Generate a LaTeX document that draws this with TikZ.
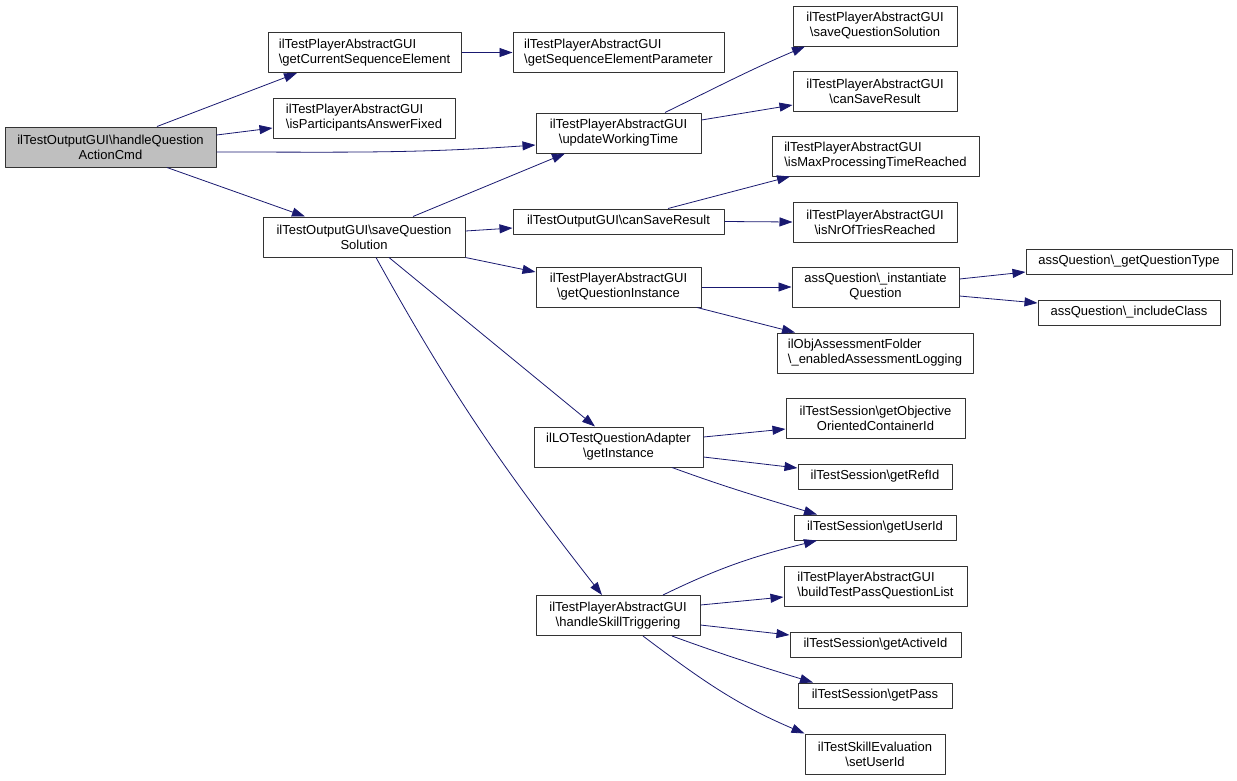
\documentclass[tikz,border=0pt]{standalone}
\usepackage{fontspec}
\setmainfont{Liberation Sans}
\usetikzlibrary{arrows.meta}
\definecolor{edgeblue}{RGB}{25,25,112}
\newcommand{\bks}{\textbackslash}
\begin{document}
\begin{tikzpicture}[x=1pt,y=-1pt,>={Triangle[length=13pt,width=9pt]},line join=round,
	every node/.style={font=\fontsize{13}{15}\selectfont},
	fn/.style={draw=black!80,line width=1pt,fill=white,inner sep=0pt,minimum height=40pt,align=center},
	fnl/.style={fn,align=left},
	fns/.style={fn,minimum height=25pt},
	call/.style={->,draw=edgeblue,line width=0.8pt}]
	\useasboundingbox (0,0) rectangle (1237,780);
	\node[fn,fill=black!25,minimum width=211pt] (main) at (110.5,147) {ilTestOutputGUI\bks handleQuestion\\ActionCmd};
	\node[fnl,minimum width=193pt] (gcse) at (364.5,52.5) {ilTestPlayerAbstractGUI\\\bks getCurrentSequenceElement};
	\node[fnl,minimum width=182pt] (ipaf) at (364,118) {ilTestPlayerAbstractGUI\\\bks isParticipantsAnswerFixed};
	\node[fn,minimum width=202pt] (sqs) at (364,237) {ilTestOutputGUI\bks saveQuestion\\Solution};
	\node[fnl,minimum width=211pt] (gsep) at (618.5,52.5) {ilTestPlayerAbstractGUI\\\bks getSequenceElementParameter};
	\node[fn,minimum width=165pt] (uwt) at (618.5,133) {ilTestPlayerAbstractGUI\\\bks updateWorkingTime};
	\node[fns,minimum width=211pt] (ocsr) at (618.5,221.5) {ilTestOutputGUI\bks canSaveResult};
	\node[fn,minimum width=165pt] (gqi) at (618.5,287) {ilTestPlayerAbstractGUI\\\bks getQuestionInstance};
	\node[fn,minimum width=169pt] (lgi) at (618.5,447) {ilLOTestQuestionAdapter\\\bks getInstance};
	\node[fn,minimum width=164pt] (hst) at (618,615.5) {ilTestPlayerAbstractGUI\\\bks handleSkillTriggering};
	\node[fn,minimum width=164pt] (psqs) at (875,26) {ilTestPlayerAbstractGUI\\\bks saveQuestionSolution};
	\node[fn,minimum width=164pt] (pcsr) at (875,91) {ilTestPlayerAbstractGUI\\\bks canSaveResult};
	\node[fnl,minimum width=207pt] (mptr) at (875.5,156) {ilTestPlayerAbstractGUI\\\bks isMaxProcessingTimeReached};
	\node[fn,minimum width=164pt] (ntr) at (875,222) {ilTestPlayerAbstractGUI\\\bks isNrOfTriesReached};
	\node[fn,minimum width=167pt] (iq) at (875.5,287) {assQuestion\bks\_instantiate\\Question};
	\node[fnl,minimum width=196pt] (eal) at (875,353) {ilObjAssessmentFolder\\\bks\_enabledAssessmentLogging};
	\node[fn,minimum width=179pt] (gooc) at (875.5,418) {ilTestSession\bks getObjective\\OrientedContainerId};
	\node[fns,minimum width=154pt] (gri) at (875,476.5) {ilTestSession\bks getRefId};
	\node[fns,minimum width=162pt] (gui) at (875,527.5) {ilTestSession\bks getUserId};
	\node[fnl,minimum width=183pt] (btpq) at (875.5,586) {ilTestPlayerAbstractGUI\\\bks buildTestPassQuestionList};
	\node[fns,minimum width=171pt] (gai) at (875.5,644.5) {ilTestSession\bks getActiveId};
	\node[fns,minimum width=154pt] (gp) at (875,695.5) {ilTestSession\bks getPass};
	\node[fn,minimum width=140pt] (suid) at (875,754) {ilTestSkillEvaluation\\\bks setUserId};
	\node[fns,minimum width=206pt] (gqt) at (1129,261.5) {assQuestion\bks\_getQuestionType};
	\node[fns,minimum width=182pt] (ic) at (1129,312.5) {assQuestion\bks\_includeClass};
	\draw[call] ([xshift=46.5pt]main.north) -- ([xshift=-67.5pt]gcse.south);
	\draw[call] ([yshift=12pt]main.east) -- ([yshift=-10pt]ipaf.west);
	\draw[call] ([yshift=-5pt]main.east) to[out=0,in=184] ([yshift=-12pt]uwt.west);
	\draw[call] ([xshift=56.5pt]main.south) -- ([xshift=-59pt]sqs.north);
	\draw[call] (gcse.east) -- (gsep.west);
	\draw[call] ([xshift=46.5pt]uwt.north) to[out=26,in=-157] ([xshift=-70pt]psqs.south);
	\draw[call] ([yshift=13pt]uwt.east) -- ([yshift=-14pt]pcsr.west);
	\draw[call] ([xshift=49pt]sqs.north) -- ([xshift=-53.5pt]uwt.south);
	\draw[call] ([yshift=6pt]sqs.east) -- ([yshift=-6.5pt]ocsr.west);
	\draw[call] (sqs.south east) -- ([yshift=15pt]gqi.west);
	\draw[call] ([xshift=25pt]sqs.south) -- ([xshift=-23.5pt]lgi.north);
	\draw[call] ([xshift=12pt]sqs.south) to[out=-61,in=128] ([xshift=-16pt]hst.north);
	\draw[call] ([xshift=49.5pt]ocsr.north) -- ([xshift=-85.5pt]mptr.south);
	\draw[call] (ocsr.east) -- (ntr.west);
	\draw[call] (gqi.east) -- (iq.west);
	\draw[call] ([xshift=78.5pt]gqi.south) -- ([xshift=-80pt]eal.north);
	\draw[call] ([yshift=8pt]iq.east) -- ([yshift=-10.5pt]gqt.west);
	\draw[call] ([yshift=-9pt]iq.east) -- ([yshift=9.5pt]ic.west);
	\draw[call] ([yshift=10pt]lgi.east) -- ([yshift=-11pt]gooc.west);
	\draw[call] ([yshift=-10pt]lgi.east) -- ([yshift=8.5pt]gri.west);
	\draw[call] ([xshift=53.5pt]lgi.south) to[out=-20,in=163] ([xshift=-58pt]gui.north);
	\draw[call] ([xshift=45pt]hst.north) to[out=26,in=-166] ([xshift=-58pt]gui.south);
	\draw[call] ([yshift=10.5pt]hst.east) -- ([yshift=-11pt]btpq.west);
	\draw[call] ([yshift=-9.5pt]hst.east) -- ([yshift=9.5pt]gai.west);
	\draw[call] ([xshift=54pt]hst.south) to[out=-20,in=163] ([xshift=-62pt]gp.north);
	\draw[call] ([xshift=25pt]hst.south) to[out=-37,in=157] (suid.north west);
\end{tikzpicture}
\end{document}
